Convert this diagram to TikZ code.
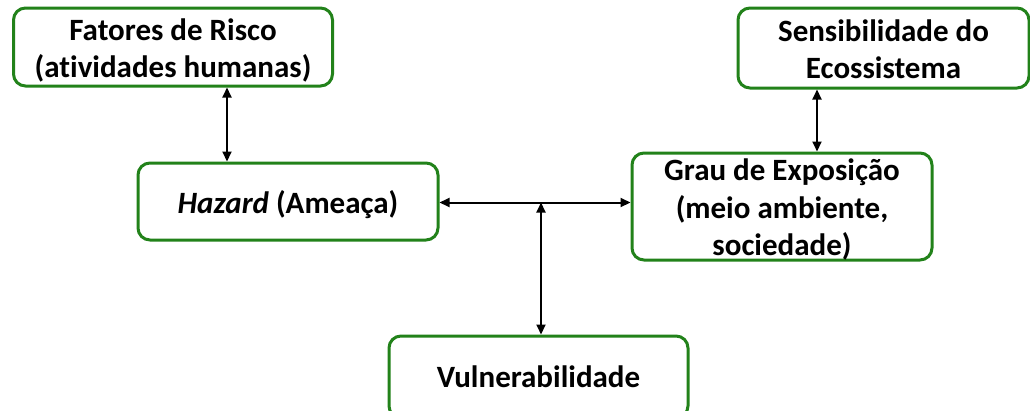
\documentclass[tikz,border=0pt]{standalone}
\usepackage{fontspec}
\setmainfont{Carlito}[Ligatures=NoCommon]
\usetikzlibrary{arrows.meta}
\definecolor{boxgreen}{RGB}{34,130,26}
% fixed line box so every line sits at the same height regardless of glyphs
\newcommand\lnbox{\rule[-7pt]{0pt}{37.5pt}}
\tikzset{
  box/.style={draw=boxgreen, line width=3pt, rounded corners=12pt, fill=white,
    inner sep=0pt, align=center, font=\fontsize{31}{37.5}\selectfont\bfseries},
  link/.style={line width=2pt, {Triangle[length=10pt,width=9pt]}-{Triangle[length=10pt,width=9pt]}}
}
\begin{document}
\begin{tikzpicture}[x=1pt,y=-1pt]
  \useasboundingbox (0,0) rectangle (1030,410);
  \clip (0,0) rectangle (1030,410);
  % boxes
  \node[box, minimum width=319pt, minimum height=78pt] (fat) at (173,47)
    {\lnbox Fatores de Risco\\\lnbox(atividades humanas)};
  \node[box, minimum width=291pt, minimum height=80pt] (sen) at (883.5,48)
    {\lnbox Sensibilidade do\\\lnbox Ecossistema};
  \node[box, minimum width=300pt, minimum height=77pt] (haz) at (288,201.5)
    {\lnbox\textit{Hazard} (Amea\c{c}a)};
  \node[box, minimum width=300pt, minimum height=107pt, inner ysep=-3pt] (gra) at (782,206.5)
    {\lnbox Grau de Exposi\c{c}\~ao\\\lnbox(meio ambiente,\\\lnbox sociedade)};
  \node[box, minimum width=299pt, minimum height=82pt] (vul) at (538.5,377)
    {Vulnerabilidade};
  % connector guides
  \coordinate (c1) at (227,0);
  \coordinate (c2) at (817,0);
  \coordinate (j) at (541,202.5);
  % connectors
  \draw[link] (fat.south -| c1) -- (haz.north -| c1);
  \draw[link] (sen.south -| c2) -- (gra.north -| c2);
  \draw[link] (haz.east |- j) -- (gra.west |- j);
  \draw[link] (vul.north -| j) -- (j);
\end{tikzpicture}
\end{document}
